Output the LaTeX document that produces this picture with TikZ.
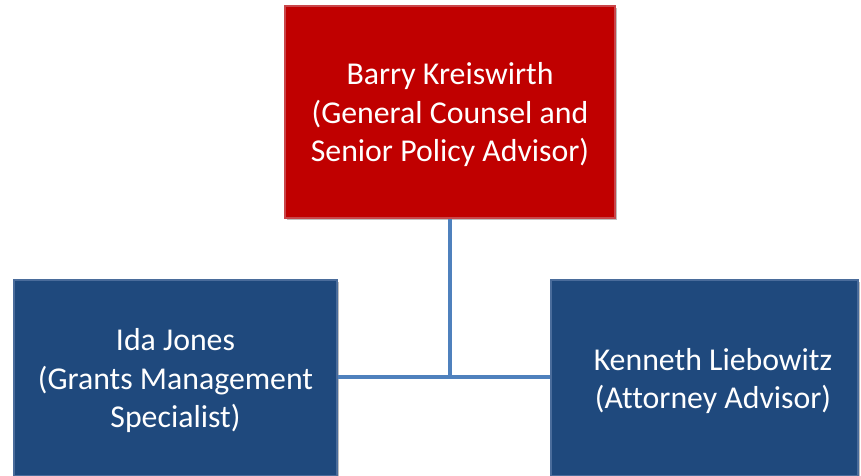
\documentclass[tikz,border=0pt]{standalone}
\usepackage{fontspec}
\setmainfont[Ligatures=NoCommon]{Carlito}
\usetikzlibrary{shadows}
\definecolor{boxred}{HTML}{C00000}
\definecolor{boxredline}{HTML}{C9464A}
\definecolor{boxblue}{HTML}{1F497D}
\definecolor{boxblueline}{HTML}{4A6C9B}
\definecolor{conn}{HTML}{4F81BD}
\tikzset{
  orgbox/.style={draw, line width=1.2pt, inner sep=0pt,
    drop shadow={shadow xshift=1.5pt, shadow yshift=-1.5pt, fill=black, opacity=0.25}},
  redbox/.style={orgbox, fill=boxred, draw=boxredline},
  bluebox/.style={orgbox, fill=boxblue, draw=boxblueline},
  boxtext/.style={font=\fontsize{31.8}{38.5}\selectfont, text=white, align=center, inner sep=0pt},
  connector/.style={draw=conn, line width=4.5pt}
}
\begin{document}
\begin{tikzpicture}[x=1pt,y=-1pt]
\useasboundingbox (0,0) rectangle (861,475);
\node[redbox, minimum width=330pt, minimum height=212pt] (top) at (450,112) {};
\node[boxtext] (toptext) at (450,115) {Barry Kreiswirth\\(General Counsel and\\Senior Policy Advisor)};
\node[bluebox, minimum width=323pt, minimum height=196pt] (left) at (175.5,378) {};
\node[boxtext] (lefttext) at (175.5,381) {Ida Jones\\(Grants Management\\Specialist)};
\node[bluebox, minimum width=307pt, minimum height=196pt] (right) at (704.5,378) {};
\node[boxtext] (righttext) at (713,381) {Kenneth Liebowitz\\(Attorney Advisor)};
\coordinate (j) at (450,377);
\draw[connector] (top.south) -- (j);
\draw[connector] (left.east |- j) -- (right.west |- j);
\end{tikzpicture}
\end{document}
